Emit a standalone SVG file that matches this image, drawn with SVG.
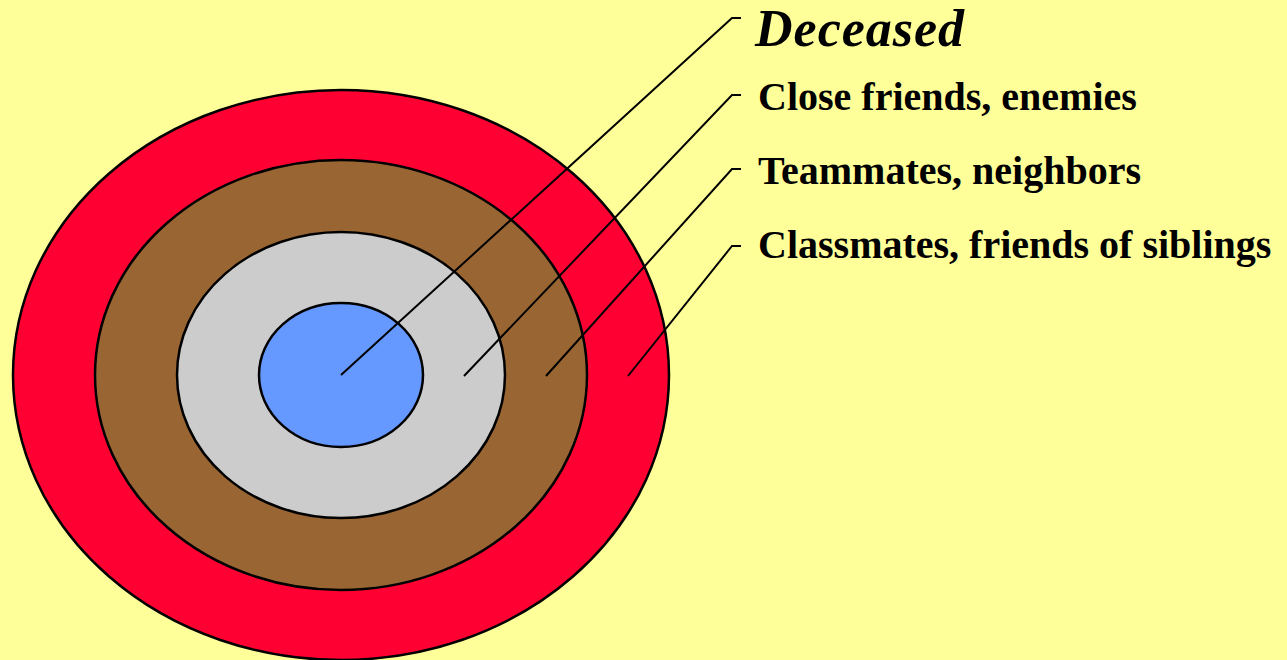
<svg xmlns="http://www.w3.org/2000/svg" width="1287" height="660" viewBox="0 0 1287 660">
<style>
.ring{stroke:#000;stroke-width:2.5}
.lbl{font-family:"Liberation Serif","Times New Roman",serif;font-weight:bold;font-size:40px;fill:#000}
.conn{fill:none;stroke:#000;stroke-width:2}
</style>
<rect width="1287" height="660" fill="#FFFF99"/>
<g id="ring-outer"><ellipse class="ring" cx="341" cy="375" rx="328" ry="285" fill="#FF0033"/></g>
<g id="ring-brown"><ellipse class="ring" cx="341" cy="375" rx="246" ry="215" fill="#996633"/></g>
<g id="ring-gray"><ellipse class="ring" cx="341" cy="375" rx="164" ry="143" fill="#CCCCCC"/></g>
<g id="ring-blue"><ellipse class="ring" cx="341" cy="375" rx="82" ry="72" fill="#6699FF"/></g>
<g id="connectors">
<polyline class="conn" points="341,375 732,18 741,18"/>
<polyline class="conn" points="464,376 732,95 741,95"/>
<polyline class="conn" points="546,376 732,169 741,169"/>
<polyline class="conn" points="628,376 732,246 741,246"/>
</g>
<g id="label-deceased"><text class="lbl" x="755" y="46" style="font-style:italic;font-size:52px;letter-spacing:1px">Deceased</text></g>
<g id="label-close"><text class="lbl" x="758" y="110">Close friends, enemies</text></g>
<g id="label-team"><text class="lbl" x="758" y="184">Teammates, neighbors</text></g>
<g id="label-class"><text class="lbl" x="758" y="258">Classmates, friends of siblings</text></g>
</svg>
